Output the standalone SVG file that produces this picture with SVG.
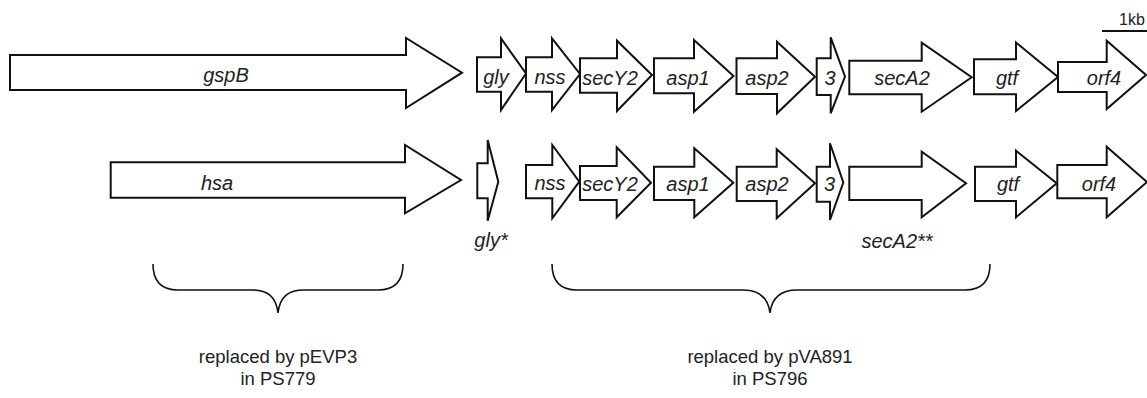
<svg xmlns="http://www.w3.org/2000/svg" width="1147" height="398" viewBox="0 0 1147 398">
  <style>
    .gene { fill: #fff; stroke: #111; stroke-width: 2; stroke-linejoin: miter; }
    .lbl { font-family: "Liberation Sans", Arial, sans-serif; font-style: italic; font-size: 20px; text-anchor: middle; fill: #222; }
    .note { font-family: "Liberation Sans", Arial, sans-serif; font-size: 18.5px; text-anchor: middle; fill: #222; }
    .brace { fill: none; stroke: #111; stroke-width: 1.6; }
  </style>

  <rect width="1147" height="398" fill="#fff"/>

  <!-- scale bar -->
  <g id="scale">
    <line x1="1102" y1="31" x2="1147" y2="31" stroke="#111" stroke-width="2"/>
    <text x="1119" y="25" font-family="Liberation Sans, Arial, sans-serif" font-size="16" fill="#222">1kb</text>
  </g>

  <!-- upper locus -->
  <g id="gspB">
    <polygon class="gene" points="10,55 406,55 406,38 462,72.7 406,108 406,90 10,90"/>
    <text class="lbl" x="226" y="82">gspB</text>
  </g>
  <g id="gly">
    <polygon class="gene" points="477,57.3 501,57.3 501,38.3 526,73.5 501,110 501,91.7 477,91.7"/>
    <text class="lbl" x="496" y="84">gly</text>
  </g>
  <g id="nss">
    <polygon class="gene" points="526,57.3 552,57.3 552,38.3 580,74 552,110 552,91.7 526,91.7"/>
    <text class="lbl" x="550" y="84">nss</text>
  </g>
  <g id="secY2">
    <polygon class="gene" points="580,58.3 617,58.3 617,40.7 652,75 617,111 617,92.7 580,92.7"/>
    <text class="lbl" x="610" y="85">secY2</text>
  </g>
  <g id="asp1">
    <polygon class="gene" points="654,58.3 694,58.3 694,40 733.5,76 694,111.7 694,93.3 654,93.3"/>
    <text class="lbl" x="688" y="85">asp1</text>
  </g>
  <g id="asp2">
    <polygon class="gene" points="736.5,58.3 777,58.3 777,41.7 815,76.7 777,113.3 777,94 736.5,94"/>
    <text class="lbl" x="767" y="85">asp2</text>
  </g>
  <g id="orf3">
    <polygon class="gene" points="816.7,58.3 830.7,58.3 830.7,37.3 845,76.5 830.7,113.3 830.7,95 816.7,95"/>
    <text class="lbl" x="830" y="85">3</text>
  </g>
  <g id="secA2">
    <polygon class="gene" points="849.3,60.7 921.7,60.7 921.7,42.7 971.7,77.3 921.7,111.7 921.7,94.3 849.3,94.3"/>
    <text class="lbl" x="902" y="85">secA2</text>
  </g>
  <g id="gtf">
    <polygon class="gene" points="974,59.3 1016,59.3 1016,42.5 1058,77 1016,111 1016,94.3 974,94.3"/>
    <text class="lbl" x="1007" y="85">gtf</text>
  </g>
  <g id="orf4">
    <polygon class="gene" points="1058,62 1106.7,62 1106.7,40.7 1146,75 1106.7,109 1106.7,92 1058,92"/>
    <text class="lbl" x="1104" y="85">orf4</text>
  </g>

  <!-- lower locus -->
  <g id="hsa">
    <polygon class="gene" points="110.7,162.3 405,162.3 405,145 461,180 405,213.3 405,197.7 110.7,197.7"/>
    <text class="lbl" x="217" y="190">hsa</text>
  </g>
  <g id="gly-mut">
    <polygon class="gene" points="477.3,163.3 487.7,163.3 487.7,140 498.3,181.7 487.7,220.7 487.7,198.3 477.3,198.3"/>
    <text class="lbl" x="491" y="247">gly*</text>
  </g>
  <g id="nss-2">
    <polygon class="gene" points="526,165 552.3,165 552.3,145 579.3,181.7 552.3,218.3 552.3,198.3 526,198.3"/>
    <text class="lbl" x="550" y="190">nss</text>
  </g>
  <g id="secY2-2">
    <polygon class="gene" points="580,166 616.7,166 616.7,147.3 651,182.7 616.7,217.3 616.7,200 580,200"/>
    <text class="lbl" x="610" y="191">secY2</text>
  </g>
  <g id="asp1-2">
    <polygon class="gene" points="654,166.7 694.3,166.7 694.3,148.3 733.3,182.7 694.3,217.3 694.3,200 654,200"/>
    <text class="lbl" x="688" y="191">asp1</text>
  </g>
  <g id="asp2-2">
    <polygon class="gene" points="736.7,166.7 776.7,166.7 776.7,149.3 815,183.3 776.7,218.3 776.7,201 736.7,201"/>
    <text class="lbl" x="767" y="191">asp2</text>
  </g>
  <g id="orf3-2">
    <polygon class="gene" points="816.7,166.7 830,166.7 830,143.3 843.3,182.5 830,220 830,201.7 816.7,201.7"/>
    <text class="lbl" x="829.5" y="191">3</text>
  </g>
  <g id="secA2-mut">
    <polygon class="gene" points="849.3,166.7 921.7,166.7 921.7,151.7 966,183.3 921.7,217.3 921.7,200 849.3,200"/>
    <text class="lbl" x="897" y="248">secA2**</text>
  </g>
  <g id="gtf-2">
    <polygon class="gene" points="975,166.7 1016,166.7 1016,150.7 1056.7,183.3 1016,217.3 1016,201 975,201"/>
    <text class="lbl" x="1008" y="191">gtf</text>
  </g>
  <g id="orf4-2">
    <polygon class="gene" points="1057.3,165 1106.7,165 1106.7,146.7 1147,182 1106.7,217.3 1106.7,198.3 1057.3,198.3"/>
    <text class="lbl" x="1099" y="191">orf4</text>
  </g>

  <!-- replaced regions -->
  <g id="connectors">
    <path class="brace" d="M153,264 C153,280 160,290 178,290 L252,290 C267,290 276,296 278,313 C280,296 289,290 304,290 L378,290 C396,290 403,280 403,264"/>
    <path class="brace" d="M552,264 C552,280 559,290 577,290 L743,290 C758,290 768,296 770,313 C772,296 782,290 797,290 L965,290 C983,290 990,280 990,264"/>
  </g>

  <g id="pEVP3-note">
    <text class="note" x="278" y="363">replaced by pEVP3</text>
    <text class="note" x="278" y="385">in PS779</text>
  </g>
  <g id="pVA891-note">
    <text class="note" x="770" y="363">replaced by pVA891</text>
    <text class="note" x="770" y="385">in PS796</text>
  </g>
</svg>
